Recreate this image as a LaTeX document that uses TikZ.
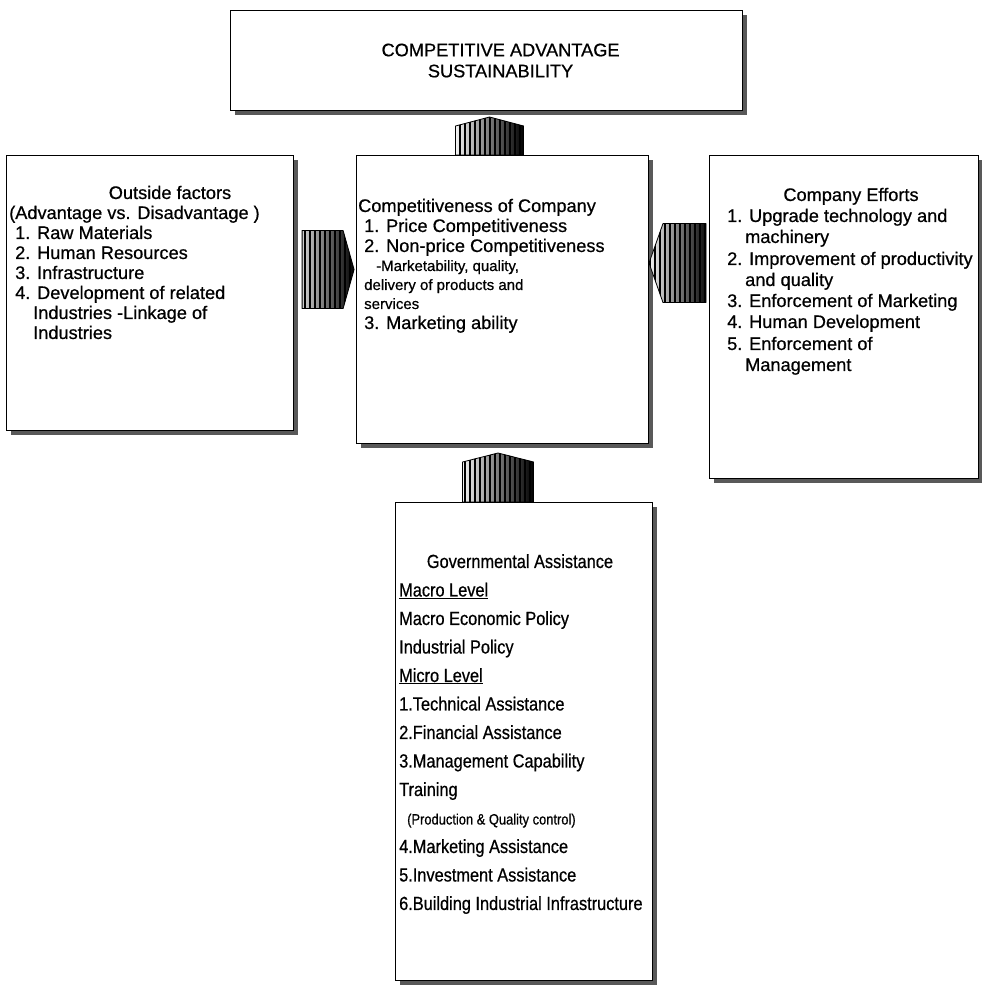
\documentclass[tikz,border=0pt]{standalone}
\usepackage{fontspec}
\setmainfont{Liberation Sans}[FakeBold=0.6]
\newfontfamily\narrowfont{Liberation Sans}[FakeStretch=0.86,FakeBold=0.6]
\usetikzlibrary{calc,shadows,patterns.meta}

\newcommand\boxfont{\fontsize{18.2}{21}\selectfont}
\newcommand\subfont{\fontsize{15}{18}\selectfont}
\newcommand\govfont{\narrowfont\fontsize{19}{24}\selectfont}

\tikzset{
  panel/.style={draw,line width=1.1pt,fill=white,inner sep=0pt,anchor=north west,
    general shadow={shadow xshift=4pt,shadow yshift=-4pt,fill=black!65}},
  txtline/.style={inner sep=0pt,anchor=base west,font=\boxfont},
  govline/.style={txtline,font=\govfont},
  head/.style={inner sep=0pt,anchor=base,font=\boxfont},
  hatch/.style={draw,line width=0.8pt,line join=round,left color=black!5,right color=black,
    postaction={pattern={Lines[angle=90,distance=5pt,line width=1.4pt]}}},
}

\begin{document}
\begin{tikzpicture}[x=1pt,y=1pt]
	\useasboundingbox (0,0) rectangle (982,986);
	
	% boxes
	\node[panel,minimum width=512pt,minimum height=100pt] (top) at (230,976) {};
	\node[panel,minimum width=287pt,minimum height=275pt] (lft) at (6,831) {};
	\node[panel,minimum width=292pt,minimum height=288pt] (ctr) at (356,831) {};
	\node[panel,minimum width=269pt,minimum height=323pt] (rgt) at (709,831) {};
	\node[panel,minimum width=257pt,minimum height=478pt] (bot) at (395,484) {};
	
	% title
	\node[font=\boxfont,align=center,inner sep=0pt] (toptxt) at ($(top.center)+(14,0)$)
		{COMPETITIVE ADVANTAGE\\SUSTAINABILITY};
	
	% outside factors
	\node[head] (lfthead) at ($(lft.north west)+(164,-44)$) {Outside factors};
	\foreach \dx/\t [count=\i from 0] in {3/{(Advantage vs. Disadvantage )},9/1. Raw Materials,
		9/2. Human Resources,9/3. Infrastructure,9/4. Development of related,
		27/Industries -Linkage of,27/Industries}
	\node[txtline] (lft\i) at ($(lft.north west)+(\dx,-64-20*\i)$) {\t};
	
	% competitiveness
	\foreach \dx/\dy/\t [count=\i from 0] in {2/57/Competitiveness of Company,
		8/77/1. Price Competitiveness,8/97/2. Non-price Competitiveness,
		20/116/{\subfont -Marketability, quality,},8/135/{\subfont delivery of products and},
		8/154/{\subfont services},8/174/3. Marketing ability}
	\node[txtline] (ctr\i) at ($(ctr.north west)+(\dx,-\dy)$) {\t};
	
	% company efforts
	\node[head] (rgthead) at ($(rgt.north west)+(142,-46)$) {Company Efforts};
	\foreach \dx/\dy/\t [count=\i from 0] in {18/67/1. Upgrade technology and,36/88/machinery,
		18/110/2. Improvement of productivity,36/131/and quality,
		18/152/3. Enforcement of Marketing,18/173/4. Human Development,
		18/195/5. Enforcement of,36/216/Management}
	\node[txtline] (rgt\i) at ($(rgt.north west)+(\dx,-\dy)$) {\t};
	
	% governmental assistance
	\node[head,font=\govfont] (bothead) at ($(bot.north west)+(125,-66)$) {Governmental Assistance};
	\foreach \dx/\t [count=\i] in {4/{\underline{Macro Level}},4/Macro Economic Policy,
		4/Industrial Policy,4/{\underline{Micro Level}},4/1.Technical Assistance,
		4/2.Financial Assistance,4/3.Management Capability,4/Training,
		12/{\subfont (Production \& Quality control)},4/4.Marketing Assistance,
		4/5.Investment Assistance,4/6.Building Industrial Infrastructure}
	\node[govline] (bot\i) at ($(bot.north west)+(\dx,-66-28.5*\i)$) {\t};
	
	% block arrows
	\draw[hatch] (ctr.north) ++(-47,0) -- ++(0,29) -- ++(34,9) -- ++(34,-9) -- ++(0,-29) -- cycle;
	\draw[hatch] (bot.north) ++(-61.5,0) -- ++(0,40) -- ++(35.5,9) -- ++(35.5,-9) -- ++(0,-40) -- cycle;
	\draw[hatch] (lft.east) ++(8,-15.5) -- ++(41,0) -- ++(11,39) -- ++(-11,39) -- ++(-41,0) -- cycle;
	\draw[hatch] (rgt.west) ++(-3,14.5) -- ++(0,79) -- ++(-43,0) -- ++(-14,-39.5) -- ++(14,-39.5) -- cycle;
\end{tikzpicture}
\end{document}
